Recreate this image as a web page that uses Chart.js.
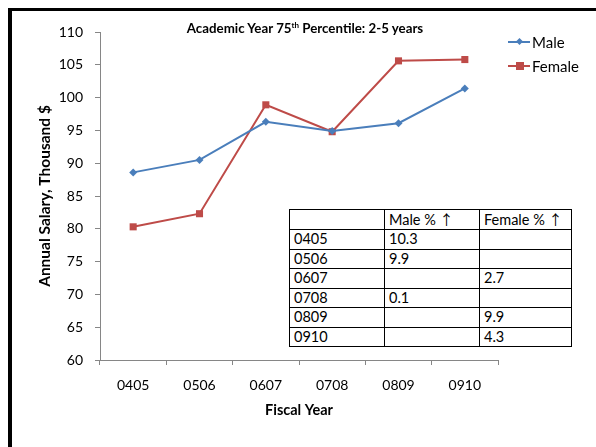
<!DOCTYPE html>
<html>
<head>
<meta charset="utf-8">
<script src="https://cdn.jsdelivr.net/npm/chart.js@4.4.1/dist/chart.umd.min.js"></script>
<style>
  body { margin: 0; background: #fff; }
  #wrap { position: relative; width: 596px; height: 447px; overflow: hidden; background: #fff; font-family: Lato, "Liberation Sans", sans-serif; }
  #frame { position: absolute; left: 8px; top: 8px; width: 700px; height: 600px; border-left: 4px solid #000; border-top: 3px solid #000; }
  #chart { position: absolute; left: 0; top: 0; }
  #title { position: absolute; left: 155px; width: 300px; top: 20px; text-align: center; font-weight: bold; font-size: 13.3px; color: #000; }
  #title sup { font-size: 8px; }
  #legend { position: absolute; left: 508px; top: 30px; font-size: 15px; color: #000; }
  .lg { display: flex; align-items: center; height: 24px; }
  .lg .ln { position: relative; width: 22px; height: 2px; margin-right: 2px; }
  .lg .mk { position: absolute; left: 8px; }
  #tbl { position: absolute; left: 289px; top: 209px; border-collapse: collapse; font-size: 14.5px; background: #fff; }
  #tbl td { border: 1px solid #000; height: 18.5px; padding: 0 4px; line-height: 18px; vertical-align: middle; }
  .arr { font-family: "Noto Sans CJK SC", "DejaVu Sans", sans-serif; font-size: 14px; color: #000; }
</style>
</head>
<body>
<div id="wrap">
  <div id="frame"></div>
  <canvas id="chart" width="596" height="447"></canvas>
  <div id="title">Academic Year 75<sup>th</sup> Percentile: 2-5 years</div>
  <div id="legend"></div>
  <table id="tbl"></table>
</div>
<script>
// fiscal years and 75th percentile salaries (thousand $)
const years = ['0405', '0506', '0607', '0708', '0809', '0910'];
const male = [88.6, 90.5, 96.3, 94.9, 96.1, 101.4];
const female = [80.3, 82.3, 98.9, 94.8, 105.6, 105.8];

// percent by which the higher-paid group leads each year
const maleUp = ['10.3', '9.9', '', '0.1', '', ''];
const femaleUp = ['', '', '2.7', '', '9.9', '4.3'];

const yTicks = [60, 65, 70, 75, 80, 85, 90, 95, 100, 105, 110];

const BLUE = '#4A7EBB';
const RED = '#BE4B48';
const AXIS = '#868686';
const FONT = 'Lato, "Liberation Sans", sans-serif';

const series = [
  { label: 'Male', data: male, color: BLUE, style: 'rectRot', r: 4 },
  { label: 'Female', data: female, color: RED, style: 'rect', r: 5 },
];

new Chart(document.getElementById('chart'), {
  type: 'line',
  data: {
    labels: years,
    datasets: series.map(s => ({
      label: s.label,
      data: s.data,
      borderColor: s.color,
      backgroundColor: s.color,
      borderWidth: 2,
      pointStyle: s.style,
      pointRadius: s.r,
      pointHoverRadius: s.r,
      pointBorderWidth: 0,
      tension: 0,
    }))
  },
  options: {
    responsive: false,
    animation: false,
    layout: { padding: { left: 0, top: 32, right: 98, bottom: 0 } },
    plugins: { legend: { display: false }, title: { display: false }, tooltip: { enabled: false } },
    scales: {
      x: {
        offset: true,
        grid: { display: true, drawOnChartArea: false, offset: true, color: AXIS, tickLength: 5 },
        border: { color: AXIS, width: 1 },
        ticks: { color: '#000', font: { family: FONT, size: 14 }, padding: 12, maxRotation: 0 },
        title: { display: true, text: 'Fiscal Year', color: '#000', font: { family: FONT, size: 14.5, weight: 'bold' }, padding: { top: 0, bottom: 28 } },
        afterFit: s => { s.height = 87; }
      },
      y: {
        min: 60, max: 110,
        afterBuildTicks: s => { s.ticks = yTicks.map(v => ({ value: v })); },
        grid: { display: true, drawOnChartArea: false, color: AXIS, tickLength: 5 },
        border: { color: AXIS, width: 1 },
        ticks: { color: '#000', font: { family: FONT, size: 14 }, padding: 12 },
        title: { display: true, text: 'Annual Salary, Thousand $', color: '#000', font: { family: FONT, size: 15.5, weight: 'bold' }, padding: { top: 36, bottom: 0 } },
        afterFit: s => { s.width = 100; }
      }
    }
  }
});

// legend: line with the series marker on it
document.getElementById('legend').innerHTML = series.map(s => {
  const mk = s.style === 'rect'
    ? `<span class="mk" style="top:-3px;width:8px;height:8px;background:${s.color}"></span>`
    : `<span class="mk" style="top:-2px;left:9px;width:5px;height:5px;background:${s.color};transform:rotate(45deg)"></span>`;
  return `<div class="lg"><span class="ln" style="background:${s.color}">${mk}</span>${s.label}</div>`;
}).join('');

// table of percent differences
const arrow = '<span class="arr">\u2191\uFE0E</span>';
const rows = [['', 'Male % ' + arrow, 'Female % ' + arrow]]
  .concat(years.map((y, i) => [y, maleUp[i], femaleUp[i]]));
document.getElementById('tbl').innerHTML = rows.map(r =>
  `<tr><td style="width:86px">${r[0]}</td><td style="width:86px">${r[1]}</td><td style="width:83px">${r[2]}</td></tr>`
).join('');
</script>
</body>
</html>
